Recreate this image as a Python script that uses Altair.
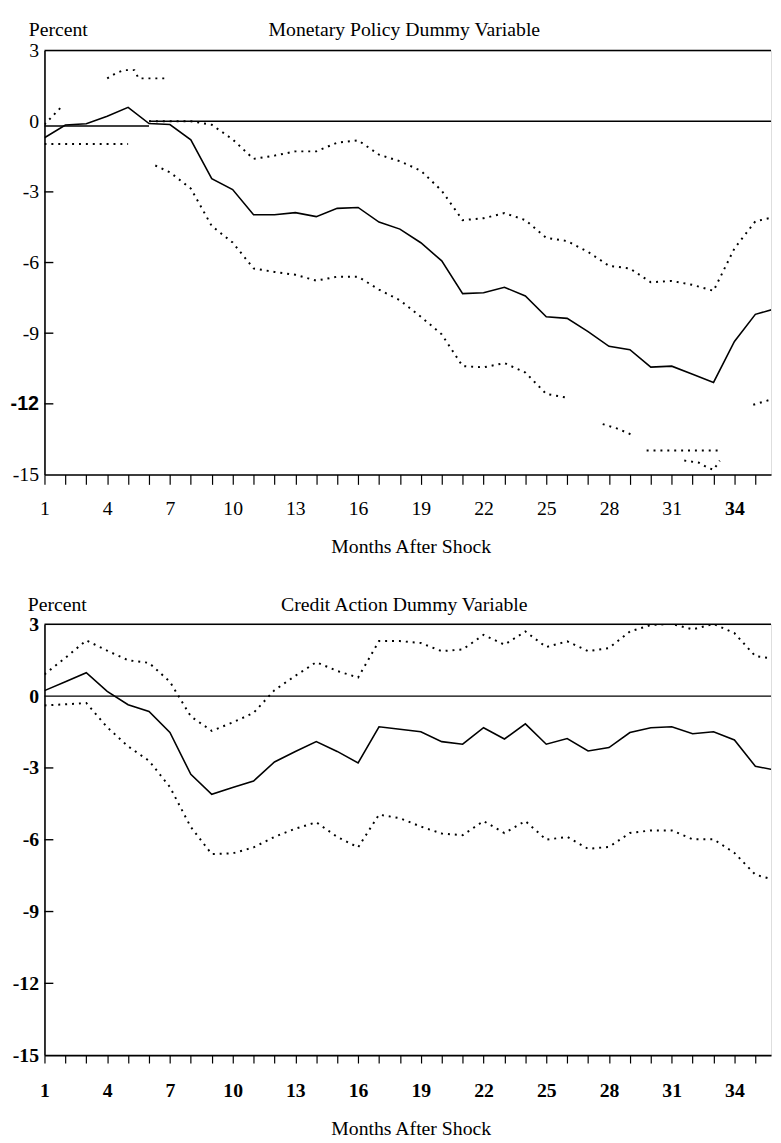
import altair as alt
import pandas as pd

SERIF = "Liberation Serif"

months = list(range(1, 37))
x_ticks = list(range(1, 36))
y_ticks = [3, 0, -3, -6, -9, -12, -15]
inner_ticks = [-3, -6, -9, -12]
x_domain = [1, 35.75]
y_domain = [-15, 3]
x_label_axis = "Months After Shock"
y_label = "Percent"

# ---------------- Panel 1: Monetary Policy Dummy Variable ----------------
mp_title = "Monetary Policy Dummy Variable"
mp_irf = [-0.70, -0.16, -0.11, 0.21, 0.59, -0.10, -0.14, -0.79, -2.44, -2.90,
          -3.97, -3.97, -3.88, -4.05, -3.70, -3.66, -4.28, -4.58, -5.16, -5.93,
          -7.32, -7.28, -7.05, -7.42, -8.30, -8.37, -8.93, -9.56, -9.70, -10.44,
          -10.40, -10.74, -11.09, -9.35, -8.20, -7.95]

mp_up_a_m = [1.0, 1.8]
mp_up_a_v = [-0.14, 0.60]
mp_up_b_m = [4.0, 4.4, 4.8, 5.3, 5.5, 6.1, 6.8]
mp_up_b_v = [1.82, 2.03, 2.17, 2.17, 1.82, 1.82, 1.82]
mp_up_c_m = list(range(6, 37))
mp_up_c_v = [0.0, 0.0, 0.0, -0.15, -0.77, -1.60, -1.46, -1.28, -1.28, -0.91,
             -0.81, -1.42, -1.70, -2.10, -2.95, -4.20, -4.12, -3.90, -4.20, -4.95,
             -5.09, -5.55, -6.14, -6.25, -6.84, -6.78, -6.95, -7.20, -5.40, -4.25,
             -4.05]

mp_lo_a_m = [1.0, 5.0]
mp_lo_a_v = [-0.97, -0.97]
mp_lo_b_m = [6.3] + list(range(7, 27))
mp_lo_b_v = [-1.88, -2.17, -2.86, -4.45, -5.15, -6.25, -6.40, -6.52, -6.77, -6.60,
             -6.60, -7.15, -7.60, -8.30, -9.05, -10.40, -10.45, -10.27, -10.67,
             -11.58, -11.74]
mp_lo_c_m = [27.7, 28.4, 29.1]
mp_lo_c_v = [-12.86, -13.05, -13.32]
mp_lo_d_m = [29.8, 33.3]
mp_lo_d_v = [-13.98, -13.98]
mp_lo_e_m = [31.6, 32.3, 32.7, 33.0, 33.3]
mp_lo_e_v = [-14.41, -14.50, -14.70, -14.80, -14.41]
mp_lo_f_m = [34.9, 36.0]
mp_lo_f_v = [-12.04, -11.75]

mp_zero_from = [1, 6]
mp_zero_to = [6, 35.75]
mp_zero_level = [-0.2, 0.0]

# ---------------- Panel 2: Credit Action Dummy Variable ----------------
ca_title = "Credit Action Dummy Variable"
ca_irf = [0.23, 0.60, 0.98, 0.20, -0.36, -0.64, -1.52, -3.27, -4.10, -3.82,
          -3.55, -2.75, -2.31, -1.90, -2.31, -2.79, -1.28, -1.38, -1.49, -1.90,
          -2.01, -1.32, -1.79, -1.16, -2.01, -1.77, -2.29, -2.15, -1.52, -1.32,
          -1.28, -1.57, -1.49, -1.83, -2.93, -3.10]
ca_upper = [0.91, 1.60, 2.33, 1.90, 1.50, 1.39, 0.60, -0.85, -1.45, -1.10,
            -0.70, 0.25, 0.85, 1.42, 1.05, 0.78, 2.30, 2.30, 2.22, 1.88,
            1.95, 2.56, 2.15, 2.70, 2.05, 2.29, 1.88, 2.01, 2.70, 2.97,
            3.02, 2.79, 3.02, 2.63, 1.67, 1.55]
ca_lower = [-0.39, -0.34, -0.29, -1.30, -2.10, -2.70, -3.80, -5.47, -6.60, -6.57,
            -6.32, -5.88, -5.54, -5.27, -5.88, -6.32, -4.95, -5.10, -5.45, -5.74,
            -5.81, -5.22, -5.72, -5.22, -6.00, -5.88, -6.38, -6.30, -5.72, -5.61,
            -5.61, -5.98, -5.98, -6.55, -7.46, -7.70]


def seg_frame(segments):
    rows = []
    for i, (ms, vs) in enumerate(segments):
        for m, v in zip(ms, vs):
            rows.append({"m": m, "v": v, "seg": i})
    return pd.DataFrame(rows)


def panel(title, irf, dotted_segments, zero_from, zero_to, zero_level, height,
          x_weight, y_weight, y_font, tick_len, label_pad, txt):
    x_axis = alt.Axis(values=x_ticks,
                      labelExpr="(datum.value - 1) % 3 === 0 ? '' + datum.value : ''",
                      tickSize=tick_len, tickWidth=1.2, tickColor="black",
                      domainColor="black", domainWidth=1.6,
                      labelFont=SERIF, labelFontSize=20, labelColor="black",
                      labelFontWeight=x_weight, labelBaseline="alphabetic",
                      labelPadding=label_pad, labelFlush=False, labelOverlap=False,
                      grid=False, title=None)
    y_axis = alt.Axis(values=y_ticks, ticks=False, tickSize=0,
                      labelExpr="'' + datum.value",
                      domainColor="black", domainWidth=1.6,
                      labelFont=y_font, labelFontSize=20, labelColor="black",
                      labelFontWeight=y_weight, labelBaseline="middle",
                      labelPadding=6, grid=False, title=None)
    xs = alt.Scale(domain=x_domain, nice=False, zero=False)
    ys = alt.Scale(domain=y_domain, nice=False, zero=False)
    X = alt.X("m:Q", scale=xs, axis=x_axis)
    Y = alt.Y("v:Q", scale=ys, axis=y_axis)

    solid_df = pd.DataFrame({"m": months, "v": irf})
    dot_df = seg_frame(dotted_segments)
    frame_df = pd.DataFrame({"m": zero_from + [x_domain[0]],
                             "m2": zero_to + [x_domain[1]],
                             "v": zero_level + [y_domain[1]]})
    tick_df = pd.DataFrame({"v": inner_ticks})

    frame = alt.Chart(frame_df).mark_rule(color="black", strokeWidth=1.5).encode(
        x=X, x2="m2:Q", y=Y)
    ticks = alt.Chart(tick_df).mark_rule(color="black", strokeWidth=1.4).encode(
        y=Y, x=alt.value(0), x2=alt.value(9))
    dotted = alt.Chart(dot_df).mark_line(
        color="black", strokeWidth=2, strokeDash=[2, 5], clip=True).encode(
        x=X, y=Y, detail="seg:N", order="m:Q")
    solid = alt.Chart(solid_df).mark_line(
        color="black", strokeWidth=1.6, clip=True).encode(x=X, y=Y)

    def text_layer(s, px, py, align):
        return alt.Chart(pd.DataFrame({"t": [s]})).mark_text(
            font=SERIF, fontSize=20, color="black", align=align,
            baseline="alphabetic").encode(
            text="t:N", x=alt.value(px), y=alt.value(py))

    (p_x, p_y), (t_x, t_y), (m_x, m_y) = txt
    texts = [text_layer(y_label, p_x, p_y, "left"),
             text_layer(title, t_x, t_y, "center"),
             text_layer(x_label_axis, m_x, m_y, "center")]

    return alt.layer(frame, ticks, dotted, solid, *texts).properties(
        width=737, height=height)


top = panel(
    mp_title, mp_irf,
    [(mp_up_a_m, mp_up_a_v), (mp_up_b_m, mp_up_b_v), (mp_up_c_m, mp_up_c_v),
     (mp_lo_a_m, mp_lo_a_v), (mp_lo_b_m, mp_lo_b_v), (mp_lo_c_m, mp_lo_c_v),
     (mp_lo_d_m, mp_lo_d_v), (mp_lo_e_m, mp_lo_e_v), (mp_lo_f_m, mp_lo_f_v)],
    mp_zero_from, mp_zero_to, mp_zero_level, 430,
    {"condition": {"test": "datum.value == 34", "value": "bold"}, "value": "normal"},
    {"condition": {"test": "datum.value == -12", "value": "bold"}, "value": "normal"},
    {"condition": {"test": "datum.value == -12", "value": "Liberation Sans"}, "value": SERIF},
    10, 31,
    ((-16, -15), (365, -15), (372, 510)))

bottom = panel(
    ca_title, ca_irf,
    [(months, ca_upper), (months, ca_lower)],
    [x_domain[0]], [x_domain[1]], [0.0], 437,
    "bold", "bold", SERIF,
    8, 34,
    ((-17, -14), (365, -14), (372, 518)))

chart = alt.vconcat(top, bottom, spacing=36).properties(
    padding={"left": 1, "top": 3, "right": 0, "bottom": 0}
).configure_view(stroke=None).configure(background="white")

chart.save("out.html", embed_options={"renderer": "svg", "actions": False})
